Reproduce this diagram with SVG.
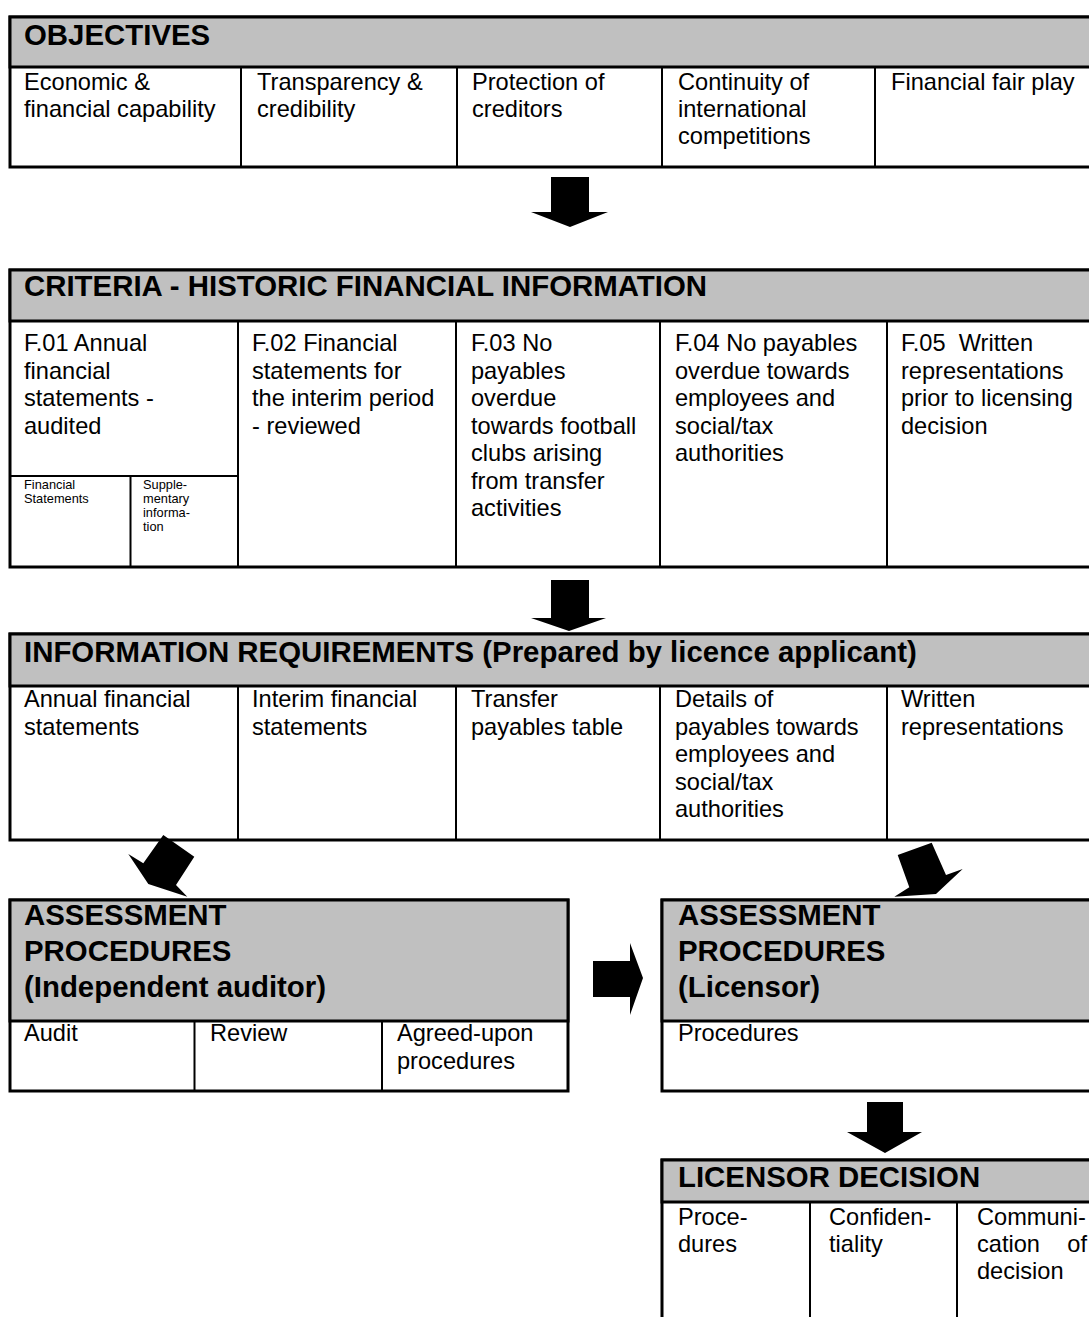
<svg xmlns="http://www.w3.org/2000/svg" width="1089" height="1317" viewBox="0 0 1089 1317">
<style>
.box{fill:#fff;stroke:#000;stroke-width:3}
.hdr{fill:#c0c0c0;stroke:#000;stroke-width:3}
.div{stroke:#000;stroke-width:2;fill:none}
.h{font-family:"Liberation Sans",Arial,sans-serif;font-weight:bold;font-size:29.4px;fill:#000}
.t{font-family:"Liberation Sans",Arial,sans-serif;font-size:23.6px;fill:#000}
.s{font-family:"Liberation Sans",Arial,sans-serif;font-size:12.8px;fill:#000}
.arr{fill:#000;stroke:none}
</style>
<rect width="1089" height="1317" fill="#fff"/>

<g id="objectives">
<rect class="box" x="10" y="17" width="1083" height="150"/>
<rect class="hdr" x="10" y="17" width="1083" height="50"/>
<path class="div" d="M241,67V167M457,67V167M662,67V167M875,67V167"/>
<text class="h" x="24" y="45">OBJECTIVES</text>
<text class="t"><tspan x="24" y="90">Economic &amp;</tspan><tspan x="24" y="117">financial capability</tspan></text>
<text class="t"><tspan x="257" y="90">Transparency &amp;</tspan><tspan x="257" y="117">credibility</tspan></text>
<text class="t"><tspan x="472" y="90">Protection of</tspan><tspan x="472" y="117">creditors</tspan></text>
<text class="t"><tspan x="678" y="90">Continuity of</tspan><tspan x="678" y="117">international</tspan><tspan x="678" y="144">competitions</tspan></text>
<text class="t" x="891" y="90">Financial fair play</text>
</g>

<g id="criteria">
<rect class="box" x="10" y="270" width="1083" height="297"/>
<rect class="hdr" x="10" y="270" width="1083" height="51"/>
<path class="div" d="M238,321V567M456,321V567M660,321V567M887,321V567M10,476H238M130.5,476V567"/>
<text class="h" x="24" y="296">CRITERIA - HISTORIC FINANCIAL INFORMATION</text>
<text class="t"><tspan x="24" y="351">F.01 Annual</tspan><tspan x="24" y="378.5">financial</tspan><tspan x="24" y="406">statements -</tspan><tspan x="24" y="433.5">audited</tspan></text>
<text class="s"><tspan x="24" y="489">Financial</tspan><tspan x="24" y="503">Statements</tspan></text>
<text class="s"><tspan x="143" y="489">Supple-</tspan><tspan x="143" y="503">mentary</tspan><tspan x="143" y="517">informa-</tspan><tspan x="143" y="531">tion</tspan></text>
<text class="t"><tspan x="252" y="351">F.02 Financial</tspan><tspan x="252" y="378.5">statements for</tspan><tspan x="252" y="406">the interim period</tspan><tspan x="252" y="433.5">- reviewed</tspan></text>
<text class="t"><tspan x="471" y="351">F.03 No</tspan><tspan x="471" y="378.5">payables</tspan><tspan x="471" y="406">overdue</tspan><tspan x="471" y="433.5">towards football</tspan><tspan x="471" y="461">clubs arising</tspan><tspan x="471" y="488.5">from transfer</tspan><tspan x="471" y="516">activities</tspan></text>
<text class="t"><tspan x="675" y="351">F.04 No payables</tspan><tspan x="675" y="378.5">overdue towards</tspan><tspan x="675" y="406">employees and</tspan><tspan x="675" y="433.5">social/tax</tspan><tspan x="675" y="461">authorities</tspan></text>
<text class="t" xml:space="preserve"><tspan x="901" y="351">F.05  Written</tspan><tspan x="901" y="378.5">representations</tspan><tspan x="901" y="406">prior to licensing</tspan><tspan x="901" y="433.5">decision</tspan></text>
</g>

<g id="information">
<rect class="box" x="10" y="634" width="1083" height="206"/>
<rect class="hdr" x="10" y="634" width="1083" height="52"/>
<path class="div" d="M238,686V840M456,686V840M660,686V840M887,686V840"/>
<text class="h" x="24" y="662">INFORMATION REQUIREMENTS (Prepared by licence applicant)</text>
<text class="t"><tspan x="24" y="707">Annual financial</tspan><tspan x="24" y="734.5">statements</tspan></text>
<text class="t"><tspan x="252" y="707">Interim financial</tspan><tspan x="252" y="734.5">statements</tspan></text>
<text class="t"><tspan x="471" y="707">Transfer</tspan><tspan x="471" y="734.5">payables table</tspan></text>
<text class="t"><tspan x="675" y="707">Details of</tspan><tspan x="675" y="734.5">payables towards</tspan><tspan x="675" y="762">employees and</tspan><tspan x="675" y="789.5">social/tax</tspan><tspan x="675" y="817">authorities</tspan></text>
<text class="t"><tspan x="901" y="707">Written</tspan><tspan x="901" y="734.5">representations</tspan></text>
</g>

<g id="assessment-auditor">
<rect class="box" x="10" y="900" width="558" height="191"/>
<rect class="hdr" x="10" y="900" width="558" height="121"/>
<path class="div" d="M194.5,1021V1091M382,1021V1091"/>
<text class="h"><tspan x="24" y="925">ASSESSMENT</tspan><tspan x="24" y="961">PROCEDURES</tspan><tspan x="24" y="997">(Independent auditor)</tspan></text>
<text class="t" x="24" y="1041">Audit</text>
<text class="t" x="210" y="1041">Review</text>
<text class="t"><tspan x="397" y="1041">Agreed-upon</tspan><tspan x="397" y="1068.5">procedures</tspan></text>
</g>

<g id="assessment-licensor">
<rect class="box" x="662" y="900" width="431" height="191"/>
<rect class="hdr" x="662" y="900" width="431" height="121"/>
<text class="h"><tspan x="678" y="925">ASSESSMENT</tspan><tspan x="678" y="961">PROCEDURES</tspan><tspan x="678" y="997">(Licensor)</tspan></text>
<text class="t" x="678" y="1041">Procedures</text>
</g>

<g id="licensor-decision">
<rect class="box" x="662" y="1160" width="431" height="170"/>
<rect class="hdr" x="662" y="1160" width="431" height="42"/>
<path class="div" d="M810,1202V1320M957,1202V1320"/>
<text class="h" x="678" y="1187">LICENSOR DECISION</text>
<text class="t"><tspan x="678" y="1225">Proce-</tspan><tspan x="678" y="1252">dures</tspan></text>
<text class="t"><tspan x="829" y="1225">Confiden-</tspan><tspan x="829" y="1252">tiality</tspan></text>
<text class="t"><tspan x="977" y="1225">Communi-</tspan><tspan x="977" y="1252">cation</tspan><tspan x="1087" y="1252" text-anchor="end">of</tspan><tspan x="977" y="1279">decision</tspan></text>
</g>

<g id="connectors">
<polygon class="arr" points="551,177 589,177 589,212 608,212 570,227 531,212 551,212"/>
<polygon class="arr" points="551,580 589,580 589,618 606,618 569,631 531,618 551,618"/>
<polygon class="arr" points="163.3,835 194.3,856.7 176,885 187.3,896.7 148.3,884 128.3,854 143.3,863.3"/>
<polygon class="arr" points="897.7,855 931.7,842.7 946,875 962.7,869 936,894 894.3,896.7 909.3,887.3"/>
<polygon class="arr" points="593,961 630,961 630,943 643,978 630,1015 630,997 593,997"/>
<polygon class="arr" points="867,1102 903,1102 903,1132 922,1132 885,1153 847,1132 867,1132"/>
</g>
</svg>
